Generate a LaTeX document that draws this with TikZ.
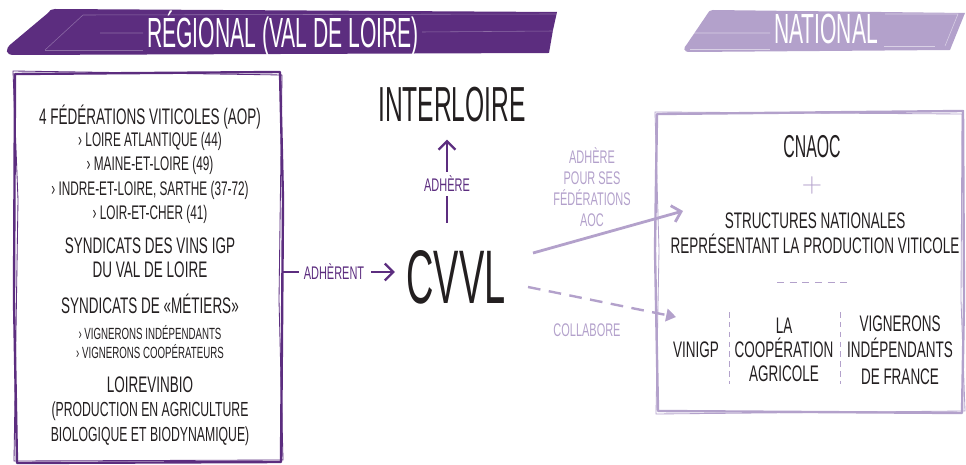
\documentclass[tikz,border=0pt]{standalone}
\usepackage{fontspec}
\usepackage{tikz}
\usetikzlibrary{arrows.meta}
\newfontfamily\hand{Liberation Sans}[FakeStretch=0.6]
\newfontfamily\handt{Liberation Sans}[FakeStretch=0.5]
\definecolor{regpurple}{HTML}{5C2D7F}
\definecolor{natpurple}{HTML}{B3A1CB}
\definecolor{ink}{HTML}{231F20}

\begin{document}
\begin{tikzpicture}[x=0.025cm,y=-0.025cm,
	txt/.style={text=ink,align=center,inner sep=0pt,font=\hand\fontsize{16}{17.3}\selectfont},
	sub/.style={txt,font=\hand\fontsize{14}{17.3}\selectfont},
	lbl/.style={align=center,inner sep=0pt,font=\hand\fontsize{13}{15}\selectfont},
	title/.style={text=ink,inner sep=0pt,font=\handt\fontsize{35}{38}\selectfont},
	banner/.style={text=white,inner sep=0pt,font=\handt\fontsize{30}{32}\selectfont},
	sketch/.style={line width=1.7pt,line join=round,line cap=round},
	thin/.style={line width=.6pt,line join=round},
	arr/.style={line width=1.7pt,-{Straight Barb[length=6pt,width=12pt]}},
	sep/.style={natpurple,line width=.7pt,dash pattern=on 5pt off 4pt}]
	\useasboundingbox (0,0) rectangle (966,465);

	% bandeaux
	\fill[regpurple] (55,9) -- (557,12) -- (553,30) -- (549,53) -- (14,55)
		.. controls (5,55) and (5,49) .. (11,44) -- (48,13) .. controls (50,10) .. (55,9) -- cycle;
	\draw[white,opacity=.3,line width=.4pt] (45,50) -- (83,15) -- (556,14);
	\draw[white,opacity=.3,line width=.4pt] (100,33) -- (143,33) (422,32) -- (554,31);
	\draw[white,opacity=.3,line width=.4pt] (45,50) -- (143,50);
	\node[banner] (regional) at (283,34) {RÉGIONAL (VAL DE LOIRE)};

	\fill[natpurple] (713,10) -- (965,13) -- (950,50) -- (690,52)
		.. controls (683,52) and (683,48) .. (687,44) -- (708,13) .. controls (709,11) .. (713,10) -- cycle;
	\draw[white,opacity=.5,line width=.4pt] (692,33) -- (770,33) (885,14) -- (958,14) -- (945,46);
	\draw[white,opacity=.5,line width=.4pt] (690,49) -- (770,49) (884,46) -- (935,46);
	\node[banner] (national) at (826,29) {NATIONAL};

	% cadre regional
	\draw[regpurple,sketch] (15,74) -- (280,72) -- (283,200) -- (281,462) -- (17,463) -- (14,300) -- cycle;
	\draw[regpurple,thin] (13,71) -- (282,75) -- (279,300) -- (283,460) -- (14,461) -- (18,200) -- cycle;

	\node[txt] (fed) at (150,117) {4 FÉDÉRATIONS VITICOLES (AOP)};
	\node[sub] (fedlist) at (150,178) {› LOIRE ATLANTIQUE (44)\\› MAINE-ET-LOIRE (49)\\› INDRE-ET-LOIRE, SARTHE (37-72)\\› LOIR-ET-CHER (41)};
	\node[txt] (igp) at (150,258) {SYNDICATS DES VINS IGP\\DU VAL DE LOIRE};
	\node[txt] (metiers) at (150,304) {SYNDICATS DE «MÉTIERS»};
	\node[txt,font=\hand\fontsize{11.5}{13.5}\selectfont] (metlist) at (150,342) {› VIGNERONS INDÉPENDANTS\\› VIGNERONS COOPÉRATEURS};
	\node[txt] (bio) at (150,385) {LOIREVINBIO};
	\node[sub,font=\hand\fontsize{14.5}{17.8}\selectfont] (biolist) at (150,424) {(PRODUCTION EN AGRICULTURE\\BIOLOGIQUE ET BIODYNAMIQUE)};

	% centre
	\node[title] (interloire) at (452,105) {INTERLOIRE};
	\node[title,font=\handt\fontsize{54}{56}\selectfont] (cvvl) at (456,277) {CVVL};
	\node[lbl,text=regpurple] (adhere) at (447,184) {ADHÈRE};
	\node[lbl,text=regpurple] (adherent) at (334,272) {ADHÈRENT};
	\coordinate (regE) at (283,272);
	\coordinate (cvvlN) at (447,223);
	\draw[regpurple,line width=1.7pt] (cvvlN) -- ([yshift=-3pt]adhere.south);
	\draw[regpurple,arr,shorten >=12pt] ([yshift=3pt]adhere.north) -- (adhere.north |- interloire.south);
	\draw[regpurple,line width=1.7pt,shorten >=3pt] (regE) -- (adherent.west);
	\draw[regpurple,arr,shorten <=5pt,shorten >=8pt] (adherent.east) -- (adherent.east -| cvvl.west);

	% vers le national
	\coordinate (cvvlR) at (533,253);
	\coordinate (cvvlD) at (528,287);
	\coordinate (natA) at (683,211);
	\coordinate (natB) at (676,317);
	\draw[natpurple,arr,line width=2pt] (cvvlR) -- (natA);
	\draw[natpurple,line width=1.7pt,dash pattern=on 9pt off 6pt,-{Triangle[length=7pt,width=9pt]}] (cvvlD) -- (natB);
	\node[lbl,text=natpurple] (adhereaoc) at (592,187) {ADHÈRE\\POUR SES\\FÉDÉRATIONS\\AOC};
	\node[lbl,text=natpurple] (collabore) at (587,330) {COLLABORE};

	% cadre national
	\draw[natpurple,sketch] (657,114) -- (963,111) -- (964,300) -- (962,413) -- (658,411) -- (655,250) -- cycle;
	\draw[natpurple,thin] (655,112) -- (962,114) -- (961,300) -- (965,411) -- (656,414) -- (659,250) -- cycle;

	\node[title,font=\handt\fontsize{22.5}{24}\selectfont] (cnaoc) at (812,147) {CNAOC};
	\node[text=natpurple,inner sep=0pt,font=\fontsize{20}{20}\selectfont] (plus) at (812,185) {+};
	\node[txt,font=\hand\fontsize{16}{17.8}\selectfont] (struct) at (815,233) {STRUCTURES NATIONALES\\REPRÉSENTANT LA PRODUCTION VITICOLE};
	\draw[sep] (777,282) -- (847,282);
	\draw[sep,dash pattern=on 4pt off 3pt] (729,312) -- (729,384);
	\draw[sep,dash pattern=on 4pt off 3pt] (840,312) -- (840,384);
	\node[txt] (vinigp) at (696,350) {VINIGP};
	\node[txt] (coop) at (784,350) {LA\\COOPÉRATION\\AGRICOLE};
	\node[txt,font=\hand\fontsize{16}{19}\selectfont] (vif) at (900,350) {VIGNERONS\\INDÉPENDANTS\\DE FRANCE};
\end{tikzpicture}
\end{document}
